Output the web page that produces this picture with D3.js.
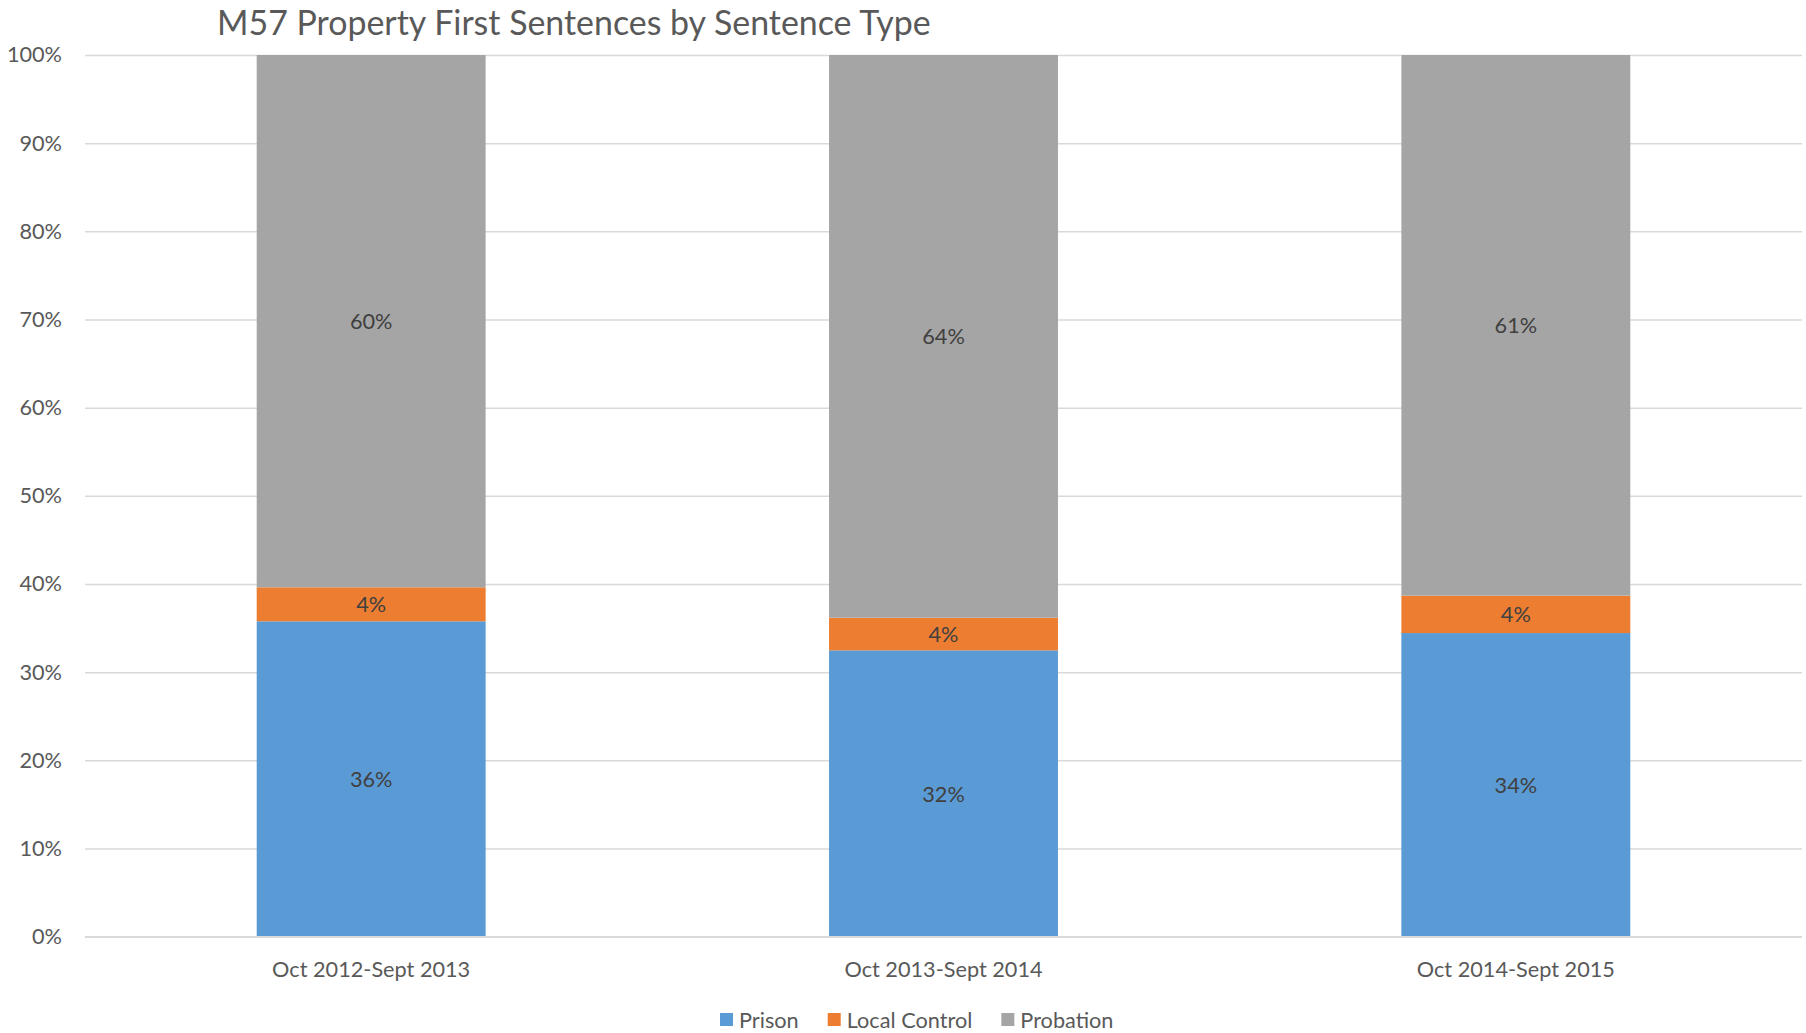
<!DOCTYPE html>
<html>
<head>
<meta charset="utf-8">
<script src="https://cdn.jsdelivr.net/npm/d3@7"></script>
<style>
  html, body { margin: 0; padding: 0; background: #fff; }
  svg { display: block; font-family: Lato, "Open Sans", sans-serif; }
</style>
</head>
<body>
<svg id="chart" width="1806" height="1033"></svg>
<script>
const title = "M57 Property First Sentences by Sentence Type";
const categories = ["Oct 2012-Sept 2013", "Oct 2013-Sept 2014", "Oct 2014-Sept 2015"];
const seriesNames = ["Prison", "Local Control", "Probation"];
const prison = [0.3577, 0.3248, 0.3444];
const localControl = [0.0386, 0.0370, 0.0424];
const probation = [0.6037, 0.6382, 0.6132];
const yTicks = [0, 0.1, 0.2, 0.3, 0.4, 0.5, 0.6, 0.7, 0.8, 0.9, 1.0];
const colors = ["#5b9bd5", "#ed7d31", "#a5a5a5"];

const svg = d3.select("#chart");
const margin = { left: 85, right: 4, top: 55, bottom: 96.3 };
const W = 1806, H = 1033;
const innerW = W - margin.left - margin.right;
const innerH = H - margin.top - margin.bottom;
const g = svg.append("g").attr("transform", `translate(${margin.left},${margin.top})`);

const x = d3.scaleBand().domain(categories).range([0, innerW]).paddingInner(0.6).paddingOuter(0.3);
const y = d3.scaleLinear().domain([0, 1]).range([innerH, 0]);

const fontSize = 21.7;
const textColor = "#595959";

// gridlines + y axis
const yAxis = d3.axisLeft(y).tickValues(yTicks).tickFormat(d3.format(".0%")).tickSize(-innerW).tickPadding(23);
const ya = g.append("g").call(yAxis);
ya.select(".domain").remove();
ya.selectAll(".tick line").attr("stroke", "#d9d9d9").attr("stroke-width", 1.5);
ya.selectAll(".tick text").attr("fill", textColor).attr("font-size", fontSize).attr("font-family", "Lato, 'Open Sans', sans-serif");

// stacked data
const rows = categories.map((c, i) => ({ cat: c, "Prison": prison[i], "Local Control": localControl[i], "Probation": probation[i] }));
const stack = d3.stack().keys(seriesNames)(rows);

const layers = g.selectAll(".layer").data(stack).join("g").attr("class", "layer").attr("fill", (d, i) => colors[i]);
layers.selectAll("rect").data(d => d).join("rect")
  .attr("x", d => x(d.data.cat))
  .attr("width", x.bandwidth())
  .attr("y", d => y(d[1]))
  .attr("height", d => y(d[0]) - y(d[1]));

// data labels
const fmt = d3.format(".0%");
layers.selectAll("text").data(d => d).join("text")
  .attr("x", d => x(d.data.cat) + x.bandwidth() / 2)
  .attr("y", d => (y(d[0]) + y(d[1])) / 2)
  .attr("text-anchor", "middle")
  .attr("dominant-baseline", "central")
  .attr("fill", "#404040")
  .attr("font-size", fontSize)
  .text(d => fmt(d[1] - d[0]));

// x axis baseline
g.append("line").attr("x1", 0).attr("x2", innerW).attr("y1", innerH).attr("y2", innerH)
  .attr("stroke", "#d9d9d9").attr("stroke-width", 1.5);

// category labels
const xAxis = d3.axisBottom(x).tickSize(0).tickPadding(25);
const xa = g.append("g").attr("transform", `translate(0,${innerH})`).call(xAxis);
xa.select(".domain").remove();
xa.selectAll(".tick text").attr("fill", textColor).attr("font-size", fontSize).attr("font-family", "Lato, 'Open Sans', sans-serif");

// title
const t = svg.append("text").attr("x", 217).attr("y", 35).attr("fill", textColor).attr("font-size", 32).text(title);
const tw = t.node().getComputedTextLength();
t.attr("font-size", 32 * 714 / tw);

// legend
const legend = svg.append("g").attr("transform", "translate(720,1020)");
let lx = 0;
seriesNames.forEach((name, i) => {
  legend.append("rect").attr("x", lx).attr("y", -7).attr("width", 13).attr("height", 13).attr("fill", colors[i]);
  const tx = legend.append("text").attr("x", lx + 19).attr("y", 0).attr("dominant-baseline", "central")
    .attr("fill", textColor).attr("font-size", fontSize).text(name);
  lx += 19 + tx.node().getComputedTextLength() + 29;
});
</script>
</body>
</html>
